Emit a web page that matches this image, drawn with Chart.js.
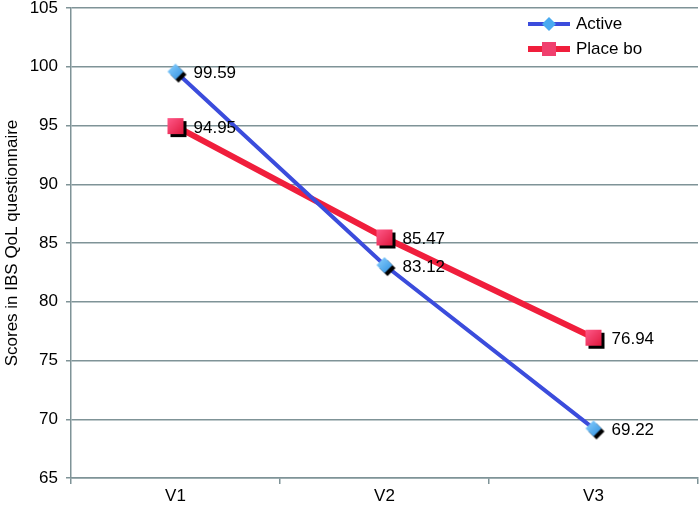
<!DOCTYPE html>
<html lang="en">

<head>
    <script src="https://cdn.jsdelivr.net/npm/chart.js@4.4.1/dist/chart.umd.min.js"></script>

    <style>
        html, body { margin: 0; padding: 0; background: #fff; }
        #chartWrap { width: 700px; height: 513px; }
    </style>
</head>

<body>
    <div id="chartWrap">
        <canvas id="qolChart" width="700" height="513"></canvas>
    </div>

    <script>
        // data
        const visits = ["V1", "V2", "V3"];
        const seriesNames = ["Active", "Place bo"];
        const activeScores = [99.59, 83.12, 69.22];
        const placeboScores = [94.95, 85.47, 76.94];
        const yMin = 65, yMax = 105, yStep = 5;
        const yTitle = "Scores in IBS QoL questionnaire";

        const FONT = '"Liberation Sans", Arial, Helvetica, sans-serif';
        const gridColor = '#7f9397';

        // marker images with the black drop shadow
        function makeMarker(kind) {
            const c = document.createElement('canvas');
            c.width = 30; c.height = 30;
            const g = c.getContext('2d');
            const cx = 15, cy = 15, sx = 3, sy = 3;
            function shape(x, y) {
                g.beginPath();
                if (kind === 'diamond') {
                    g.moveTo(x, y - 8); g.lineTo(x + 8, y); g.lineTo(x, y + 8); g.lineTo(x - 8, y);
                } else {
                    g.rect(x - 8, y - 8, 16, 16);
                }
                g.closePath();
            }
            g.fillStyle = '#000';
            shape(cx + sx, cy + sy);
            g.fill();
            const grad = g.createLinearGradient(cx - 8, cy - 8, cx + 8, cy + 8);
            if (kind === 'diamond') {
                grad.addColorStop(0, '#8fd3ff');
                grad.addColorStop(1, '#2f8fe0');
            } else {
                grad.addColorStop(0, '#ff5a8a');
                grad.addColorStop(1, '#e0183e');
            }
            g.fillStyle = grad;
            shape(cx, cy);
            g.fill();
            return c;
        }

        const diamondImg = makeMarker('diamond');
        const squareImg = makeMarker('square');

        // value labels next to every point
        const valueLabels = {
            id: 'valueLabels',
            afterDatasetsDraw(chart) {
                const ctx = chart.ctx;
                ctx.save();
                ctx.font = '17px ' + FONT;
                ctx.fillStyle = '#000';
                ctx.textAlign = 'left';
                ctx.textBaseline = 'middle';
                chart.data.datasets.forEach((ds, i) => {
                    chart.getDatasetMeta(i).data.forEach((pt, j) => {
                        ctx.fillText(ds.data[j].toFixed(2), pt.x + 18, pt.y + 2);
                    });
                });
                ctx.restore();
            }
        };

        // legend in the top right corner, line + marker like the original
        const cornerLegend = {
            id: 'cornerLegend',
            afterDraw(chart) {
                const ctx = chart.ctx;
                const rows = [24, 49];
                ctx.save();
                chart.data.datasets.forEach((ds, i) => {
                    const y = rows[i];
                    ctx.strokeStyle = ds.borderColor;
                    ctx.lineWidth = ds.borderWidth;
                    ctx.beginPath();
                    ctx.moveTo(528, y);
                    ctx.lineTo(570, y);
                    ctx.stroke();
                    ctx.fillStyle = i === 0 ? '#4aaaf0' : '#f0406e';
                    ctx.beginPath();
                    if (i === 0) {
                        ctx.moveTo(549, y - 7); ctx.lineTo(556, y); ctx.lineTo(549, y + 7); ctx.lineTo(542, y);
                    } else {
                        ctx.rect(542, y - 7, 14, 14);
                    }
                    ctx.closePath();
                    ctx.fill();
                    ctx.font = '17px ' + FONT;
                    ctx.fillStyle = '#000';
                    ctx.textBaseline = 'middle';
                    ctx.fillText(ds.label, 576, y);
                });
                ctx.restore();
            }
        };

        new Chart(document.getElementById('qolChart'), {
            type: 'line',
            data: {
                labels: visits,
                datasets: [{
                    label: seriesNames[0],
                    data: activeScores,
                    borderColor: '#3b4cdc',
                    borderWidth: 4,
                    pointStyle: diamondImg,
                    tension: 0
                }, {
                    label: seriesNames[1],
                    data: placeboScores,
                    borderColor: '#f01e3c',
                    borderWidth: 6,
                    pointStyle: squareImg,
                    tension: 0
                }]
            },
            options: {
                responsive: false,
                animation: false,
                layout: {
                    autoPadding: false,
                    padding: { top: 8, right: 2, left: 0, bottom: 0 }
                },
                plugins: {
                    legend: { display: false },
                    tooltip: { enabled: false }
                },
                scales: {
                    x: {
                        offset: true,
                        grid: {
                            offset: true,
                            drawOnChartArea: false,
                            drawTicks: true,
                            tickLength: 6,
                            color: gridColor,
                            lineWidth: 1.5
                        },
                        border: { color: gridColor, width: 1.5 },
                        ticks: {
                            color: '#000',
                            padding: 2,
                            font: { family: FONT, size: 17 }
                        },
                        afterFit(scale) {
                            scale.height = 35;
                            scale.paddingLeft = 0;
                            scale.paddingRight = 0;
                        }
                    },
                    y: {
                        min: yMin,
                        max: yMax,
                        ticks: {
                            stepSize: yStep,
                            color: '#000',
                            padding: 8,
                            font: { family: FONT, size: 17 }
                        },
                        grid: {
                            color: gridColor,
                            lineWidth: 1.5,
                            tickLength: 5
                        },
                        border: { color: gridColor, width: 1.5 },
                        title: {
                            display: true,
                            text: yTitle,
                            color: '#000',
                            padding: { top: 2, bottom: 0 },
                            font: { family: FONT, size: 17 }
                        },
                        afterFit(scale) {
                            scale.width = 71;
                            scale.paddingTop = 0;
                            scale.paddingBottom = 0;
                        }
                    }
                }
            },
            plugins: [valueLabels, cornerLegend]
        });
    </script>
</body>

</html>
